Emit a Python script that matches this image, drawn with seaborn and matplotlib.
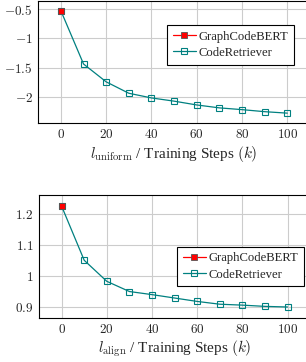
import matplotlib.pyplot as plt
import seaborn as sns
import pandas as pd

# data
steps = [0, 10, 20, 30, 40, 50, 60, 70, 80, 90, 100]
uniform_cr = [-0.53, -1.44, -1.745, -1.94, -2.02, -2.075, -2.14, -2.19, -2.22, -2.255, -2.28]
align_cr = [1.227, 1.052, 0.984, 0.951, 0.941, 0.930, 0.919, 0.910, 0.907, 0.903, 0.901]
gcb_step = [0]
uniform_gcb = [-0.53]
align_gcb = [1.227]

x_ticks = [0, 20, 40, 60, 80, 100]
uniform_ticks = [-2, -1.5, -1, -0.5]
align_ticks = [0.9, 1, 1.1, 1.2]

sns.set_theme(style="whitegrid")
plt.rcParams.update({
    'font.family': ['Liberation Serif', 'DejaVu Serif'],
    'mathtext.fontset': 'cm',
    'axes.edgecolor': 'black',
    'axes.linewidth': 0.8,
    'grid.color': '#cccccc',
    'grid.linewidth': 0.8,
})

teal = '#008080'
red = '#ff0000'

fig = plt.figure(figsize=(3.06, 3.62), dpi=100)
ax_top = fig.add_axes([0.125, 0.6616, 0.888, 0.3367])
ax_bot = fig.add_axes([0.1275, 0.1229, 0.886, 0.3384])


def draw(ax, yvals, gcb_vals, yticks, ylim, xlabel, legend_anchor):
    df = pd.DataFrame({'step': steps, 'value': yvals})
    sns.lineplot(data=df, x='step', y='value', ax=ax, color=teal, linewidth=0.9,
                 marker='s', markersize=4, markerfacecolor='none',
                 markeredgecolor=teal, markeredgewidth=0.8, label='CodeRetriever', zorder=3)
    dg = pd.DataFrame({'step': gcb_step, 'value': gcb_vals})
    sns.lineplot(data=dg, x='step', y='value', ax=ax, color=red, linewidth=0.9,
                 marker='s', markersize=4, markerfacecolor=red,
                 markeredgecolor='#555555', markeredgewidth=0.6, label='GraphCodeBERT', zorder=4)
    ax.set_xlim(-10, 110)
    ax.set_ylim(*ylim)
    ax.set_xticks(x_ticks)
    ax.set_xticklabels([f'${t}$' for t in x_ticks])
    ax.set_yticks(yticks)
    ax.set_yticklabels([f'${t}$' for t in yticks])
    ax.tick_params(labelsize=9.5, length=0, pad=4)
    ax.set_xlabel(xlabel, fontsize=11, labelpad=2)
    ax.set_ylabel('')
    for s in ax.spines.values():
        s.set_color('black')
        s.set_linewidth(0.8)
    h, l = ax.get_legend_handles_labels()
    leg = ax.legend(h[::-1], l[::-1], loc='upper left', bbox_to_anchor=legend_anchor,
                    fontsize=9.1, frameon=True, fancybox=False, edgecolor='black',
                    framealpha=1, handlelength=1.85, handletextpad=0.2,
                    borderpad=0.45, borderaxespad=0, labelspacing=0.33)
    leg.get_frame().set_linewidth(0.8)


draw(ax_top, uniform_cr, uniform_gcb, uniform_ticks, (-2.44, -0.356),
     r'$l_{\mathrm{uniform}}$ / Training Steps $(k)$', (0.474, 0.80))
draw(ax_bot, align_cr, align_gcb, align_ticks, (0.867, 1.263),
     r'$l_{\mathrm{align}}$ / Training Steps $(k)$', (0.509, 0.578))

fig.savefig('out.png', dpi=100)
